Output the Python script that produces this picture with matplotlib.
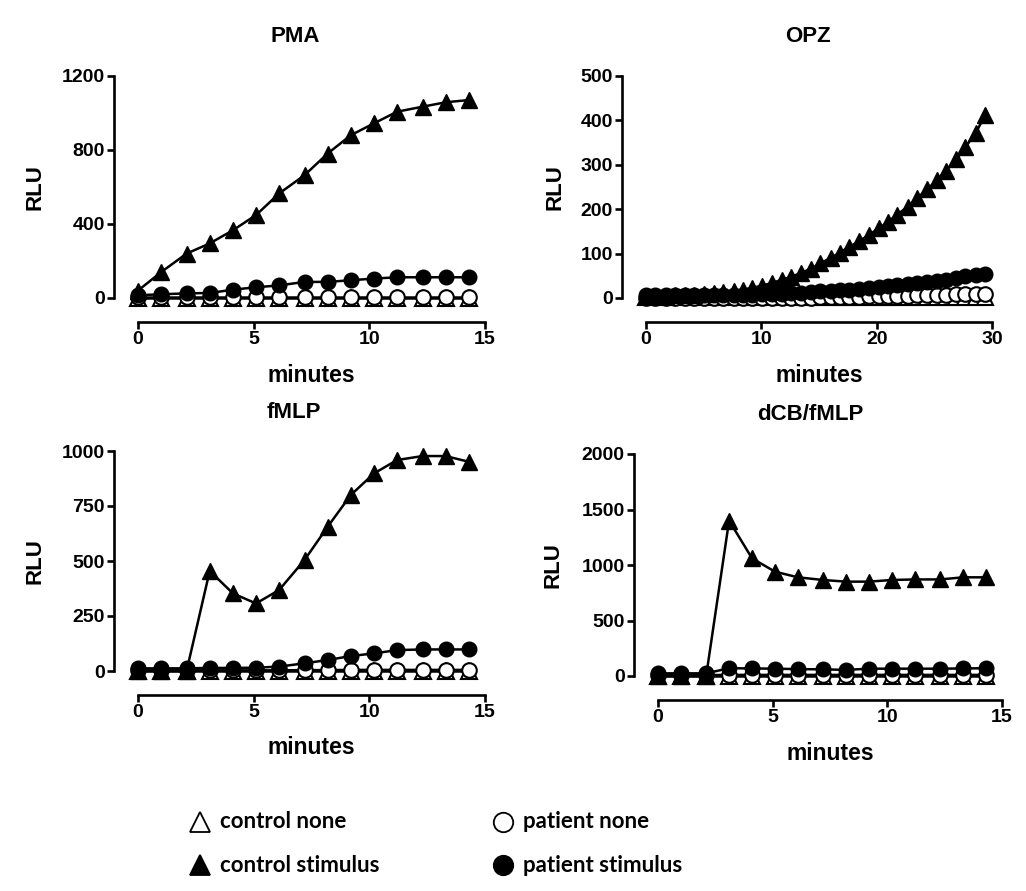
import numpy as np
import matplotlib
matplotlib.use('Agg')
import matplotlib.pyplot as plt
from matplotlib.lines import Line2D

# sampling times (minutes)
t15 = [0, 1.0, 2.1, 3.1, 4.1, 5.1, 6.1, 7.2, 8.2, 9.2, 10.2, 11.2, 12.3, 13.3, 14.3]
t30 = [0, 0.8, 1.7, 2.5, 3.4, 4.2, 5.0, 5.9, 6.7, 7.6, 8.4, 9.2, 10.1, 10.9, 11.8, 12.6,
       13.4, 14.3, 15.1, 16.0, 16.8, 17.6, 18.5, 19.3, 20.2, 21.0, 21.8, 22.7, 23.5, 24.4,
       25.2, 26.0, 26.9, 27.7, 28.6, 29.4]

# PMA
pma_ctrl_none = [2, 2, 2, 2, 2, 2, 2, 2, 2, 2, 2, 2, 2, 2, 2]
pma_ctrl_stim = [40, 140, 240, 295, 366, 448, 565, 664, 781, 880, 944, 1007, 1034, 1058, 1070]
pma_pat_none = [3, 3, 3, 3, 3, 3, 3, 3, 3, 3, 3, 3, 3, 3, 3]
pma_pat_stim = [15, 20, 25, 27, 45, 58, 68, 87, 87, 96, 105, 112, 112, 112, 112]

# OPZ
opz_ctrl_none = [2] * 36
opz_ctrl_stim = [5, 5, 5, 6, 6, 7, 9, 11, 13, 16, 19, 23, 28, 34, 41, 48, 56, 66, 78, 90,
                 102, 115, 128, 142, 157, 172, 188, 206, 225, 245, 265, 287, 312, 340, 372, 412]
opz_pat_none = [0, 0, 0, 0, 0, 0, 0, 0, 0, 0, 0, 0, 0, 0, 0, 1, 1, 1, 2, 2,
                3, 3, 3, 4, 4, 5, 5, 5, 6, 6, 7, 7, 8, 9, 9, 10]
opz_pat_stim = [6, 6, 6, 6, 6, 6, 6, 6, 6, 6, 6, 7, 8, 9, 10, 11, 12, 13, 15, 16,
                18, 19, 21, 23, 25, 27, 29, 31, 33, 36, 38, 41, 45, 49, 52, 55]

# fMLP
fmlp_ctrl_none = [2, 2, 2, 2, 2, 2, 2, 2, 2, 2, 2, 2, 2, 2, 2]
fmlp_ctrl_stim = [0, 0, 0, 455, 353, 307, 368, 505, 656, 800, 898, 959, 977, 977, 951]
fmlp_pat_none = [3, 3, 3, 3, 3, 3, 3, 4, 4, 5, 5, 5, 5, 5, 5]
fmlp_pat_stim = [12, 12, 12, 14, 14, 15, 20, 35, 50, 68, 80, 95, 98, 98, 98]

# dCB/fMLP
dcb_ctrl_none = [2, 2, 2, 2, 2, 2, 2, 2, 2, 2, 2, 2, 2, 2, 2]
dcb_ctrl_stim = [0, 0, 0, 1400, 1060, 940, 889, 865, 850, 850, 865, 870, 870, 889, 889]
dcb_pat_none = [8, 8, 8, 10, 10, 10, 10, 10, 10, 10, 10, 10, 10, 10, 10]
dcb_pat_stim = [24, 24, 24, 70, 68, 66, 62, 60, 55, 66, 66, 66, 66, 68, 70]

panels = [
    ('PMA', t15, pma_ctrl_none, pma_ctrl_stim, pma_pat_none, pma_pat_stim,
     [0, 400, 800, 1200], [0, 5, 10, 15]),
    ('OPZ', t30, opz_ctrl_none, opz_ctrl_stim, opz_pat_none, opz_pat_stim,
     [0, 100, 200, 300, 400, 500], [0, 10, 20, 30]),
    ('fMLP', t15, fmlp_ctrl_none, fmlp_ctrl_stim, fmlp_pat_none, fmlp_pat_stim,
     [0, 250, 500, 750, 1000], [0, 5, 10, 15]),
    ('dCB/fMLP', t15, dcb_ctrl_none, dcb_ctrl_stim, dcb_pat_none, dcb_pat_stim,
     [0, 500, 1000, 1500, 2000], [0, 5, 10, 15]),
]

W, H = 1026, 891
# axes boxes in pixels: x0, x1 (data span), ytop, ybottom
boxes = [(138, 485, 76, 298), (646, 992, 76, 298), (138, 485, 451, 671), (658, 1002, 454, 676)]
title_x = [0.452, 0.468, 0.448, 0.442]
ylab_x = [-0.297, -0.263, -0.297, -0.305]
xlab_x = [0.50, 0.50, 0.50, 0.50]

plt.rcParams['font.family'] = ['Liberation Sans', 'DejaVu Sans']
plt.rcParams['font.weight'] = 'bold'

fig = plt.figure(figsize=(W / 100, H / 100), dpi=100)

for i, (name, t, cn, cs, pn, ps, yt, xt) in enumerate(panels):
    x0, x1, yt_px, yb_px = boxes[i]
    ax = fig.add_axes([x0 / W, 1 - yb_px / H, (x1 - x0) / W, (yb_px - yt_px) / H])
    ms_t, ms_c = 11.5, 10.5
    ax.plot(t, cn, '-', color='k', lw=1.8, marker='^', ms=ms_t, mfc='white', mec='k', mew=1.5, clip_on=False)
    ax.plot(t, pn, '-', color='k', lw=1.8, marker='o', ms=ms_c, mfc='white', mec='k', mew=1.5, clip_on=False)
    ax.plot(t, cs, '-', color='k', lw=1.8, marker='^', ms=ms_t, mfc='k', mec='k', clip_on=False)
    ax.plot(t, ps, '-', color='k', lw=1.8, marker='o', ms=ms_c, mfc='k', mec='k', clip_on=False)

    ax.set_xlim(xt[0], xt[-1])
    ax.set_ylim(yt[0], yt[-1])
    ax.set_xticks(xt)
    ax.set_yticks(yt)
    for s in ['top', 'right']:
        ax.spines[s].set_visible(False)
    ax.spines['left'].set_position(('outward', 17))
    ax.spines['bottom'].set_position(('outward', 17))
    ax.spines['left'].set_linewidth(1.9)
    ax.spines['bottom'].set_linewidth(1.9)
    ax.tick_params(axis='both', direction='out', length=5, width=1.9, labelsize=14, pad=2)
    for lab in ax.get_xticklabels() + ax.get_yticklabels():
        lab.set_fontweight('bold')

    ax.text(title_x[i], 1 + 39 / (yb_px - yt_px), name, transform=ax.transAxes,
            ha='center', va='center', fontsize=16, fontweight='bold')
    ax.text(ylab_x[i], 0.5, 'RLU', transform=ax.transAxes, rotation=90,
            ha='center', va='center', fontsize=16, fontweight='bold')
    ax.text(xlab_x[i], -77 / (yb_px - yt_px), 'minutes', transform=ax.transAxes,
            ha='center', va='center', fontsize=16.5, fontweight='bold')

# legend at the bottom
leg_items = [
    (200, 822, '^', 'white', 'control none'),
    (200, 865, '^', 'k', 'control stimulus'),
    (503, 822, 'o', 'white', 'patient none'),
    (503, 865, 'o', 'k', 'patient stimulus'),
]
for lx, ly, mk, fc, label in leg_items:
    ms = 15 if mk == '^' else 14
    fig.add_artist(Line2D([lx / W], [1 - ly / H], transform=fig.transFigure, marker=mk,
                          ms=ms, mfc=fc, mec='k', mew=1.3, linestyle='none'))
    fig.text((lx + 20) / W, 1 - ly / H, label, ha='left', va='center', fontsize=16,
             fontweight='bold', family=['Lato', 'DejaVu Sans'])

fig.savefig('out.png', dpi=100, facecolor='white')
